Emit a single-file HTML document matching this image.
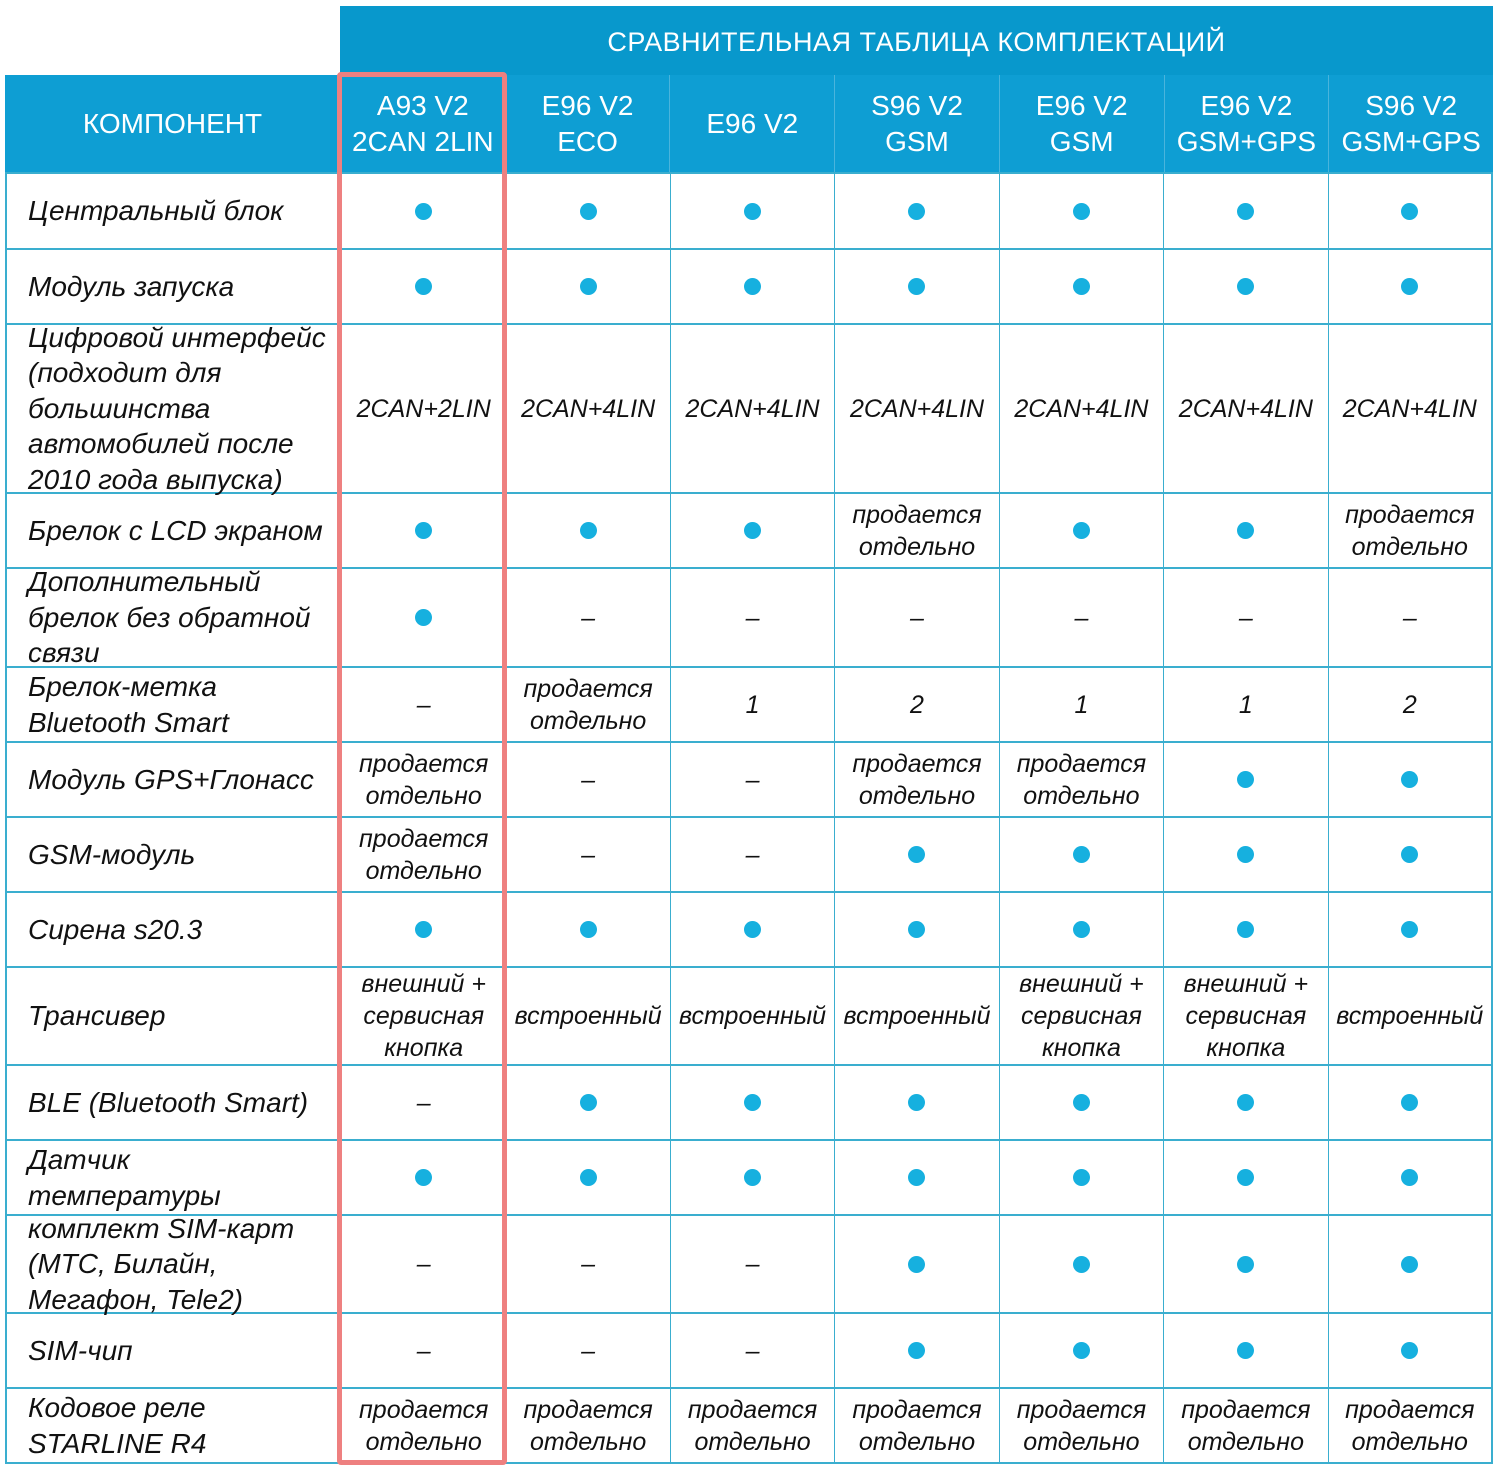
<!DOCTYPE html>
<html><head><meta charset="utf-8"><style>
html,body{margin:0;padding:0;background:#fff;width:1500px;height:1475px;overflow:hidden}
body{position:relative;font-family:"Liberation Sans","DejaVu Sans",sans-serif}
.top{position:absolute;left:340px;top:6px;width:1153px;height:69px;background:#0898cc;color:#fff;font-size:27px;text-align:center;line-height:72px;letter-spacing:0.5px}
.g{position:absolute;left:5px;width:1488px;display:grid;grid-template-columns:335px repeat(7,1fr)}
.h{top:75px;height:97px;background:#0e9ed3}
.h div{color:#fff;font-size:28px;line-height:36px;display:flex;align-items:center;justify-content:center;text-align:center;border-left:1px solid #4ab4dc;box-sizing:border-box}
.h div:first-child{border-left:none}
.b{top:172px;grid-template-rows:76px 75px 169px 75px 99px 75px 75px 75px 75px 98px 75px 75px 98px 75px 75px;border-left:2px solid #3aaecf;border-top:2px solid #3aaecf;box-sizing:border-box}
.b div{border-right:1px solid #3aaecf;border-bottom:2px solid #3aaecf;box-sizing:border-box;display:flex;align-items:center;justify-content:center;text-align:center;font-style:italic;font-size:25px;line-height:32px;color:#111;white-space:nowrap;overflow:visible}
.b div.l{justify-content:flex-start;text-align:left;padding-left:21px;font-size:28px;line-height:35.5px}
.b div:nth-child(8n){border-right:2px solid #3aaecf}
.d{display:inline-block;width:17px;height:17px;border-radius:50%;background:#16b0df}
.red{position:absolute;left:337px;top:72px;width:160px;height:1383px;border:5px solid #ee8080;border-radius:4px}
</style></head><body>
<div class="top">СРАВНИТЕЛЬНАЯ ТАБЛИЦА КОМПЛЕКТАЦИЙ</div>
<div class="g h"><div>КОМПОНЕНТ</div><div>A93 V2<br>2CAN 2LIN</div><div>E96 V2<br>ECO</div><div>E96 V2</div><div>S96 V2<br>GSM</div><div>E96 V2<br>GSM</div><div>E96 V2<br>GSM+GPS</div><div>S96 V2<br>GSM+GPS</div></div>
<div class="g b">
<div class="l">Центральный блок</div><div><span class="d"></span></div><div><span class="d"></span></div><div><span class="d"></span></div><div><span class="d"></span></div><div><span class="d"></span></div><div><span class="d"></span></div><div><span class="d"></span></div>
<div class="l">Модуль запуска</div><div><span class="d"></span></div><div><span class="d"></span></div><div><span class="d"></span></div><div><span class="d"></span></div><div><span class="d"></span></div><div><span class="d"></span></div><div><span class="d"></span></div>
<div class="l">Цифровой интерфейс<br>(подходит для<br>большинства<br>автомобилей после<br>2010 года выпуска)</div><div>2CAN+2LIN</div><div>2CAN+4LIN</div><div>2CAN+4LIN</div><div>2CAN+4LIN</div><div>2CAN+4LIN</div><div>2CAN+4LIN</div><div>2CAN+4LIN</div>
<div class="l">Брелок с LCD экраном</div><div><span class="d"></span></div><div><span class="d"></span></div><div><span class="d"></span></div><div>продается<br>отдельно</div><div><span class="d"></span></div><div><span class="d"></span></div><div>продается<br>отдельно</div>
<div class="l">Дополнительный<br>брелок без обратной<br>связи</div><div><span class="d"></span></div><div>–</div><div>–</div><div>–</div><div>–</div><div>–</div><div>–</div>
<div class="l">Брелок-метка<br>Bluetooth Smart</div><div>–</div><div>продается<br>отдельно</div><div>1</div><div>2</div><div>1</div><div>1</div><div>2</div>
<div class="l">Модуль GPS+Глонасс</div><div>продается<br>отдельно</div><div>–</div><div>–</div><div>продается<br>отдельно</div><div>продается<br>отдельно</div><div><span class="d"></span></div><div><span class="d"></span></div>
<div class="l">GSM-модуль</div><div>продается<br>отдельно</div><div>–</div><div>–</div><div><span class="d"></span></div><div><span class="d"></span></div><div><span class="d"></span></div><div><span class="d"></span></div>
<div class="l">Сирена s20.3</div><div><span class="d"></span></div><div><span class="d"></span></div><div><span class="d"></span></div><div><span class="d"></span></div><div><span class="d"></span></div><div><span class="d"></span></div><div><span class="d"></span></div>
<div class="l">Трансивер</div><div>внешний +<br>сервисная<br>кнопка</div><div>встроенный</div><div>встроенный</div><div>встроенный</div><div>внешний +<br>сервисная<br>кнопка</div><div>внешний +<br>сервисная<br>кнопка</div><div>встроенный</div>
<div class="l">BLE (Bluetooth Smart)</div><div>–</div><div><span class="d"></span></div><div><span class="d"></span></div><div><span class="d"></span></div><div><span class="d"></span></div><div><span class="d"></span></div><div><span class="d"></span></div>
<div class="l">Датчик<br>температуры</div><div><span class="d"></span></div><div><span class="d"></span></div><div><span class="d"></span></div><div><span class="d"></span></div><div><span class="d"></span></div><div><span class="d"></span></div><div><span class="d"></span></div>
<div class="l">комплект SIM-карт<br>(МТС, Билайн,<br>Мегафон, Tele2)</div><div>–</div><div>–</div><div>–</div><div><span class="d"></span></div><div><span class="d"></span></div><div><span class="d"></span></div><div><span class="d"></span></div>
<div class="l">SIM-чип</div><div>–</div><div>–</div><div>–</div><div><span class="d"></span></div><div><span class="d"></span></div><div><span class="d"></span></div><div><span class="d"></span></div>
<div class="l">Кодовое реле<br>STARLINE R4</div><div>продается<br>отдельно</div><div>продается<br>отдельно</div><div>продается<br>отдельно</div><div>продается<br>отдельно</div><div>продается<br>отдельно</div><div>продается<br>отдельно</div><div>продается<br>отдельно</div>
</div>
<div class="red"></div>
</body></html>
